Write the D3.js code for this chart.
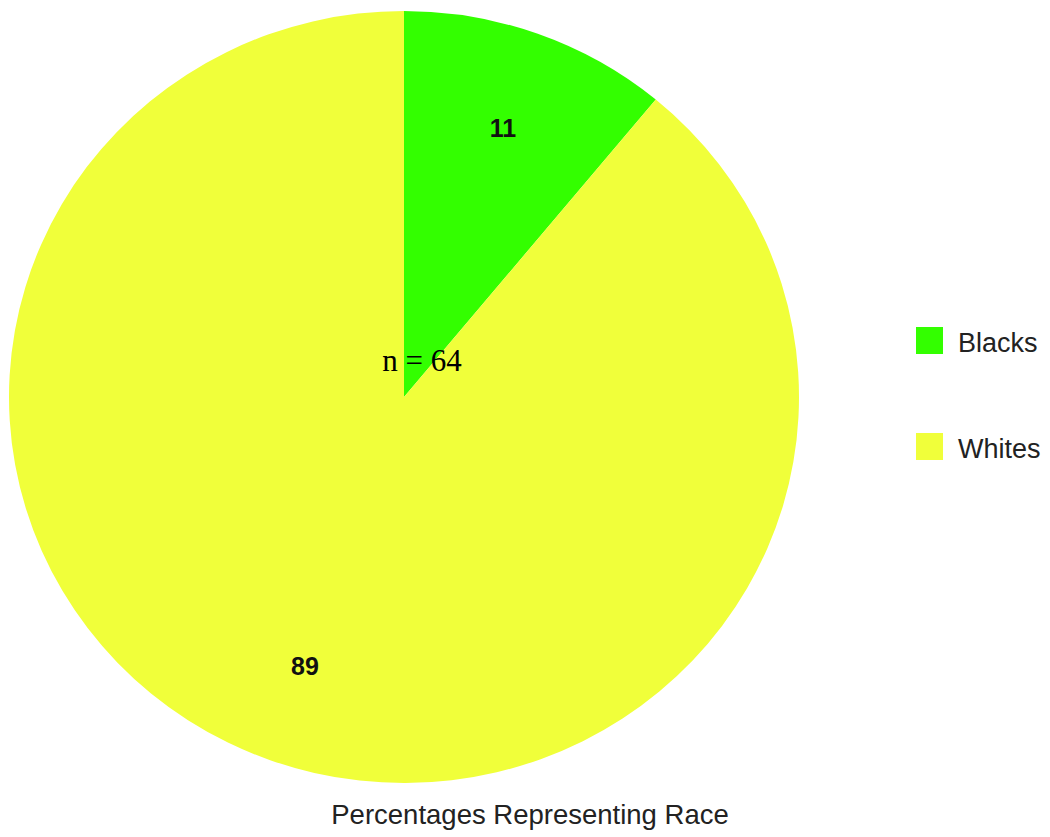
<!DOCTYPE html>
<html><head><meta charset="utf-8">
<script src="https://cdn.jsdelivr.net/npm/d3@7"></script>
<style>body{margin:0;background:#fff}svg{display:block}</style>
</head><body>
<svg id="c" width="1050" height="837"></svg>
<script>
const categories = ["Blacks", "Whites"];
const values = [11, 89];
const colors = ["#33ff00", "#f0ff3a"];
const title = "Percentages Representing Race";
const centerNote = "n = 64";

const svg = d3.select("#c");
const cx = 404, cy = 397, r = 395, sy = 386 / 395;

const pie = d3.pie().sort(null).value(d => d)(values);
const arc = d3.arc().innerRadius(0).outerRadius(r);
const labelArc = d3.arc().innerRadius(r * 0.74).outerRadius(r * 0.74);

const g = svg.append("g").attr("transform", `translate(${cx},${cy}) scale(1,${sy})`);
g.selectAll("path").data(pie).join("path")
  .attr("d", arc).attr("fill", (d, i) => colors[i]);

const lg = svg.append("g").attr("transform", `translate(${cx},${cy})`);
lg.selectAll("text").data(pie).join("text")
  .attr("x", d => labelArc.centroid(d)[0])
  .attr("y", d => labelArc.centroid(d)[1] * sy)
  .attr("text-anchor", "middle").attr("dy", "0.36em")
  .attr("font-family", "Liberation Sans, Arial, sans-serif")
  .attr("font-weight", "bold").attr("font-size", 25).attr("fill", "#111")
  .text(d => d.data);

svg.append("text").attr("x", 422).attr("y", 371).attr("text-anchor", "middle")
  .attr("font-family", "Liberation Serif, Times New Roman, serif")
  .attr("font-size", 31).attr("fill", "#000").text(centerNote);

const leg = svg.append("g");
const items = leg.selectAll("g").data(categories).join("g")
  .attr("transform", (d, i) => `translate(916,${327 + i * 106})`);
items.append("rect").attr("width", 27).attr("height", 27).attr("fill", (d, i) => colors[i]);
items.append("text").attr("x", 42).attr("y", 25)
  .attr("font-family", "Liberation Sans, Arial, sans-serif")
  .attr("font-size", 27).attr("fill", "#222").text(d => d);

svg.append("text").attr("x", 530).attr("y", 824).attr("text-anchor", "middle")
  .attr("font-family", "Liberation Sans, Arial, sans-serif")
  .attr("font-size", 27.5).attr("fill", "#222").text(title);
</script>
</body></html>
